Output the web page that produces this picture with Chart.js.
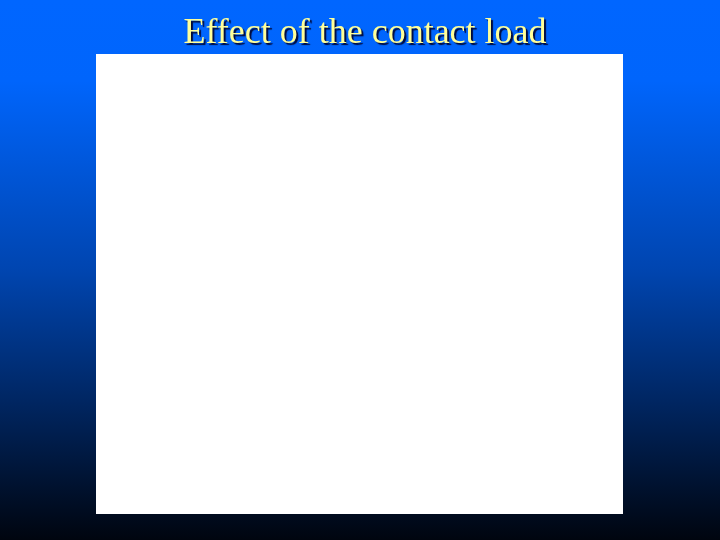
<!DOCTYPE html>
<html lang="en">
<head>
    <meta charset="UTF-8">
    <title>Effect of the contact load</title>
    <script src="https://cdn.jsdelivr.net/npm/chart.js"></script>
    <style>
        body {
            margin: 0;
            padding: 0;
            background: #000;
            overflow: hidden;
        }
        canvas {
            display: block;
        }
    </style>
</head>
<body>
<canvas id="loadChart" width="720" height="540"></canvas>

<script>
    // the figure on the slide is blank, so there is nothing to plot
    const loads = [];
    const values = [];
    const titleText = 'Effect of the contact load';

    // slide background + white panel behind the plot area
    const slidePlugin = {
        id: 'slide',
        beforeDraw(chart) {
            const ctx = chart.ctx;
            const w = chart.width, h = chart.height;
            const grad = ctx.createLinearGradient(0, 0, 0, h);
            grad.addColorStop(0, '#0066ff');
            grad.addColorStop(0.15, '#0065fc');
            grad.addColorStop(0.5, '#0045b0');
            grad.addColorStop(1, '#00050f');
            ctx.save();
            ctx.fillStyle = grad;
            ctx.fillRect(0, 0, w, h);
            const a = chart.chartArea;
            ctx.fillStyle = '#ffffff';
            ctx.fillRect(a.left, a.top, a.right - a.left, a.bottom - a.top);
            ctx.restore();
        },
        afterDraw(chart) {
            const ctx = chart.ctx;
            ctx.save();
            ctx.font = '36px "Liberation Serif", "Times New Roman", serif';
            ctx.textAlign = 'center';
            ctx.textBaseline = 'alphabetic';
            ctx.shadowColor = 'rgba(0, 0, 40, 0.9)';
            ctx.shadowOffsetX = 2;
            ctx.shadowOffsetY = 2;
            ctx.shadowBlur = 1;
            ctx.fillStyle = '#ffff99';
            ctx.fillText(titleText, 365, 43);
            ctx.restore();
        }
    };

    new Chart(document.getElementById('loadChart').getContext('2d'), {
        type: 'line',
        data: {
            labels: loads,
            datasets: [
                { label: 'Contact load', data: values, borderColor: '#000', fill: false }
            ]
        },
        options: {
            responsive: false,
            animation: false,
            devicePixelRatio: 1,
            layout: {
                padding: { left: 96, right: 97, top: 54, bottom: 26 }
            },
            plugins: {
                legend: { display: false },
                title: { display: false },
                tooltip: { enabled: false }
            },
            scales: {
                x: { display: false },
                y: { display: false }
            }
        },
        plugins: [slidePlugin]
    });
</script>
</body>
</html>
